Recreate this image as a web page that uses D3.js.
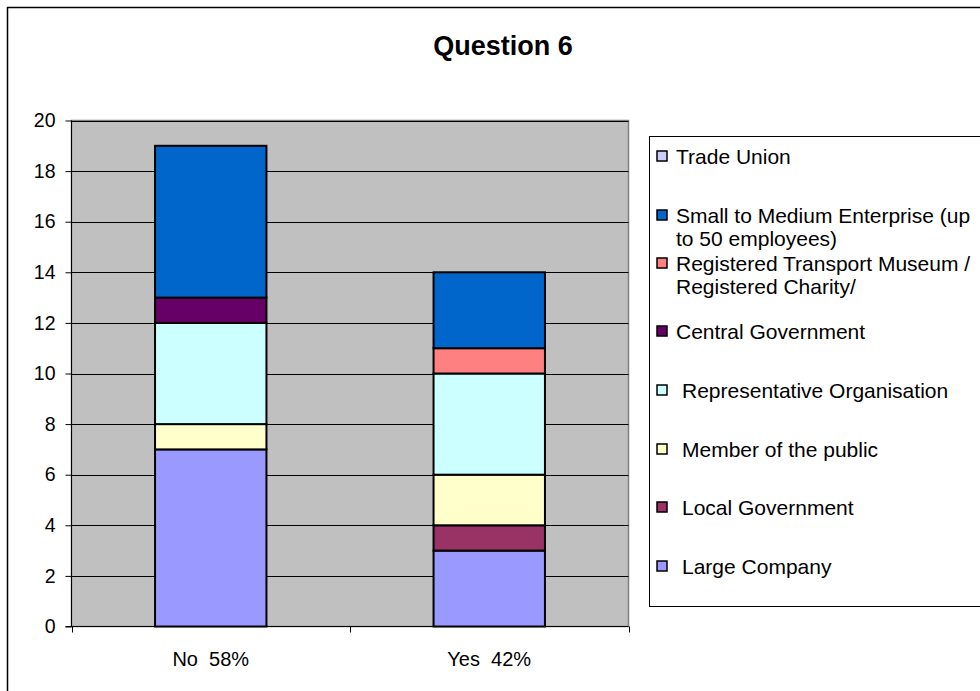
<!DOCTYPE html>
<html>
<head>
<meta charset="utf-8">
<script src="https://cdn.jsdelivr.net/npm/d3@7"></script>
<style>
  html, body { margin: 0; padding: 0; background: #fff; }
  svg { display: block; font-family: "Liberation Sans", Arial, sans-serif; }
  text { white-space: pre; }
</style>
</head>
<body>
<svg id="chart" width="980" height="691"></svg>
<script>
// Responses to question 6, by respondent type
const categories = ["No  58%", "Yes  42%"];
const seriesNames = [
  "Large Company",
  "Local Government",
  "Member of the public",
  "Representative Organisation",
  "Central Government",
  "Registered Transport Museum / Registered Charity/",
  "Small to Medium Enterprise (up to 50 employees)",
  "Trade Union"
];
const seriesColors = ["#9999FF", "#993366", "#FFFFCC", "#CCFFFF", "#660066", "#FF8080", "#0066CC", "#CCCCFF"];
const largeCompany     = [7, 3];
const localGovernment  = [0, 1];
const memberOfPublic   = [1, 2];
const representative   = [4, 4];
const centralGov       = [1, 0];
const transportMuseum  = [0, 1];
const smallMedium      = [6, 3];
const tradeUnion       = [0, 0];
const yTicks = [0, 2, 4, 6, 8, 10, 12, 14, 16, 18, 20];

// Legend lines (wrapped as in the legend box)
const legendLines = [
  ["Large Company"],
  ["Local Government"],
  ["Member of the public"],
  ["Representative Organisation"],
  ["Central Government"],
  ["Registered Transport Museum /", "Registered Charity/"],
  ["Small to Medium Enterprise (up", "to 50 employees)"],
  ["Trade Union"]
];

const seriesValues = [largeCompany, localGovernment, memberOfPublic, representative,
                      centralGov, transportMuseum, smallMedium, tradeUnion];
const rows = categories.map((c, i) => {
  const r = { category: c };
  seriesNames.forEach((s, j) => r[s] = seriesValues[j][i]);
  return r;
});
const stacked = d3.stack().keys(seriesNames)(rows);

const svg = d3.select("#chart");

// Chart area frame
svg.append("rect").attr("x", 7.5).attr("y", 7.5).attr("width", 1000).attr("height", 720)
  .attr("fill", "#fff").attr("stroke", "#000").attr("stroke-width", 1.5);

// Title
svg.append("text").attr("x", 503).attr("y", 55).attr("text-anchor", "middle")
  .attr("font-size", 27).attr("font-weight", "bold").text("Question 6");

const plot = { left: 71.5, right: 628.5, top: 120.5, bottom: 626.5 };
const x = d3.scaleBand().domain(categories).range([plot.left, plot.right]).paddingInner(0.6).paddingOuter(0.3);
const y = d3.scaleLinear().domain([0, 20]).range([plot.bottom, plot.top]);

// Plot background
svg.append("rect").attr("x", plot.left).attr("y", plot.top)
  .attr("width", plot.right - plot.left).attr("height", plot.bottom - plot.top)
  .attr("fill", "#C0C0C0").attr("stroke", "#808080").attr("stroke-width", 1.5);

// Gridlines
svg.append("g").selectAll("line").data(yTicks.filter(t => t > 0)).join("line")
  .attr("x1", plot.left).attr("x2", plot.right)
  .attr("y1", d => Math.round(y(d)) + 0.5).attr("y2", d => Math.round(y(d)) + 0.5)
  .attr("stroke", "#000").attr("stroke-width", 1);

// Bars
svg.append("g").selectAll("g").data(stacked).join("g")
  .attr("fill", (d, i) => seriesColors[i])
  .selectAll("rect").data(d => d.filter(p => p[1] - p[0] > 0)).join("rect")
  .attr("x", d => x(d.data.category))
  .attr("width", x.bandwidth())
  .attr("y", d => y(d[1]))
  .attr("height", d => y(d[0]) - y(d[1]))
  .attr("stroke", "#000").attr("stroke-width", 2);

// Y axis
const yAxis = svg.append("g").attr("transform", `translate(${plot.left},0)`)
  .call(d3.axisLeft(y).tickValues(yTicks).tickSize(6).tickPadding(10).tickFormat(d3.format("d")));
yAxis.select(".domain").attr("stroke", "#000").attr("d", `M0,${plot.top}V${plot.bottom}`);
yAxis.selectAll("text").attr("font-size", 19.5).attr("font-family", "Liberation Sans, Arial, sans-serif").attr("fill", "#000");

// X axis with ticks at category boundaries
const boundaries = [plot.left, (plot.left + plot.right) / 2, plot.right];
const xg = svg.append("g");
xg.append("line").attr("x1", plot.left - 6).attr("x2", plot.right)
  .attr("y1", plot.bottom).attr("y2", plot.bottom).attr("stroke", "#000");
xg.selectAll("line.tick").data(boundaries).join("line").attr("class", "tick")
  .attr("x1", d => Math.round(d) + 0.5).attr("x2", d => Math.round(d) + 0.5)
  .attr("y1", plot.bottom).attr("y2", plot.bottom + 6).attr("stroke", "#000");
xg.selectAll("text").data(categories).join("text")
  .attr("x", d => x(d) + x.bandwidth() / 2).attr("y", 666)
  .attr("text-anchor", "middle").attr("font-size", 20).text(d => d);

// Legend
const legend = svg.append("g");
legend.append("rect").attr("x", 649.5).attr("y", 136.5).attr("width", 400).attr("height", 470)
  .attr("fill", "#fff").attr("stroke", "#000");
const legendY = [566, 507, 449, 390, 331, 263, 215, 156];
const indentText = [true, true, true, true, false, false, false, false];
legendLines.forEach((lines, i) => {
  const cy = legendY[i];
  legend.append("rect").attr("x", 657).attr("y", cy - 5).attr("width", 10).attr("height", 10)
    .attr("fill", seriesColors[i]).attr("stroke", "#000").attr("stroke-width", 1.5);
  const tx = indentText[i] ? 682 : 676;
  lines.forEach((ln, k) => {
    legend.append("text").attr("x", tx).attr("y", cy + 7.5 + k * 23.5)
      .attr("font-size", 21).attr("fill", "#000").text(ln);
  });
});
</script>
</body>
</html>
